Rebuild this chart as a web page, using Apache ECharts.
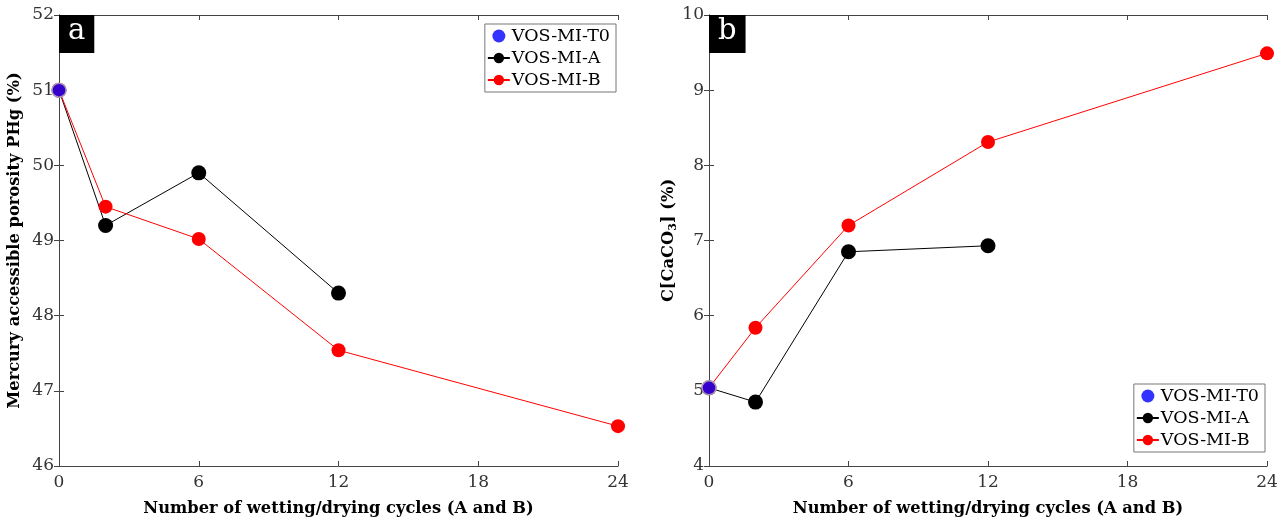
<!DOCTYPE html>
<html><head><meta charset="utf-8">
<script src="https://cdn.jsdelivr.net/npm/echarts@6/dist/echarts.min.js"></script>
<style>html,body{margin:0;padding:0;background:#fff}#c{width:1288px;height:522px}</style>
</head><body><div id="c"></div>
<script>
// Data
const cyclesT0 = [0];
const cyclesA = [0, 2, 6, 12];
const cyclesB = [0, 2, 6, 12, 24];
const poroT0 = [51.0];
const poroA = [51.0, 49.2, 49.9, 48.3];
const poroB = [51.0, 49.45, 49.02, 47.54, 46.53];
const caco3T0 = [5.04];
const caco3A = [5.04, 4.85, 6.85, 6.93];
const caco3B = [5.04, 5.84, 7.2, 8.31, 9.49];
const xTicks = [0, 6, 12, 18, 24];
const seriesNames = ['VOS-MI-T0', 'VOS-MI-A', 'VOS-MI-B'];

const FONT = 'DejaVu Serif';
const pair = (xs, ys) => xs.map((x, i) => [x, ys[i]]);

function xAxis(gi) {
  return {
    gridIndex: gi, type: 'value', min: 0, max: 24, interval: 6,
    name: 'Number of wetting/drying cycles (A and B)', nameLocation: 'middle', nameGap: 35,
    nameTextStyle: {fontFamily: FONT, fontWeight: 'bold', fontSize: 16.3, color: '#000'},
    axisLine: {show: true, lineStyle: {color: '#444', width: 1}},
    axisTick: {show: true, inside: true, length: 5, lineStyle: {color: '#444'}},
    axisLabel: {fontFamily: FONT, fontSize: 17, color: '#333', margin: 8},
    splitLine: {show: false}
  };
}
function xTop(gi) {
  return {gridIndex: gi, type: 'value', min: 0, max: 24, interval: 6, position: 'top',
    axisLine: {show: true, lineStyle: {color: '#444'}}, axisTick: {show: true, inside: true, length: 5, lineStyle: {color: '#444'}},
    axisLabel: {show: false}, splitLine: {show: false}};
}
function yAxis(gi, min, max, name, gap, rich) {
  return {
    gridIndex: gi, type: 'value', min: min, max: max, interval: 1,
    name: name, nameLocation: 'middle', nameGap: gap,
    nameTextStyle: {fontFamily: FONT, fontWeight: 'bold', fontSize: 16.3, color: '#000', rich: rich},
    axisLine: {show: true, lineStyle: {color: '#444', width: 1}},
    axisTick: {show: true, inside: true, length: 5, lineStyle: {color: '#444'}},
    axisLabel: {fontFamily: FONT, fontSize: 17, color: '#333', margin: 5},
    splitLine: {show: false}
  };
}
function yRight(gi, min, max) {
  return {gridIndex: gi, type: 'value', min: min, max: max, interval: 1, position: 'right',
    axisLine: {show: true, lineStyle: {color: '#444'}}, axisTick: {show: true, inside: true, length: 5, lineStyle: {color: '#444'}},
    axisLabel: {show: false}, splitLine: {show: false}};
}
function seriesFor(t0, a, b, xa, ya) {
  return [
    {name: seriesNames[1], type: 'line', xAxisIndex: xa, yAxisIndex: ya, data: pair(cyclesA, a),
      symbol: 'circle', symbolSize: 15, lineStyle: {color: '#000', width: 1}, itemStyle: {color: '#000'}, z: 2},
    {name: seriesNames[2], type: 'line', xAxisIndex: xa, yAxisIndex: ya, data: pair(cyclesB, b),
      symbol: 'circle', symbolSize: 14, lineStyle: {color: '#ff0000', width: 1}, itemStyle: {color: '#ff0000'}, z: 3},
    {name: seriesNames[0], type: 'scatter', xAxisIndex: xa, yAxisIndex: ya, data: pair(cyclesT0, t0),
      symbol: 'circle', symbolSize: 14, itemStyle: {color: '#0000ff', borderColor: '#c8b4c8', borderWidth: 1.5}, z: 5}
  ];
}
function legend(pos) {
  return Object.assign({
    orient: 'vertical', data: seriesNames, backgroundColor: '#fff', borderColor: '#777', borderWidth: 1,
    padding: [3, 6, 3, 2], itemGap: 4, itemWidth: 22, itemHeight: 13,
    itemStyle: {borderWidth: 0},
    textStyle: {fontFamily: FONT, fontSize: 17.5, color: '#000', padding: [0, 0, 0, -3]}
  }, pos);
}

const chart = echarts.init(document.getElementById('c'));
chart.setOption({
  animation: false,
  grid: [
    {left: 59, right: 670, top: 15, bottom: 56},
    {left: 709, right: 21, top: 15, bottom: 56}
  ],
  xAxis: [xAxis(0), xTop(0), xAxis(1), xTop(1)],
  yAxis: [
    yAxis(0, 46, 52, 'Mercury accessible porosity PHg (%)', 36), yRight(0, 46, 52),
    yAxis(1, 4, 10, 'C[CaCO{sub|3}] (%)', 24, {sub: {fontFamily: FONT, fontWeight: 'bold', fontSize: 11, verticalAlign: 'bottom', padding: [8, 0, 0, 0]}}), yRight(1, 4, 10)
  ],
  legend: [
    legend({right: 672, top: 24}),
    legend({right: 23, top: 384})
  ],
  title: [
    {text: 'a', left: 59, top: 15, backgroundColor: '#000', padding: [2, 9, 7, 9],
      textStyle: {color: '#fff', fontFamily: FONT, fontSize: 29, fontWeight: 'normal'}},
    {text: 'b', left: 709, top: 15, backgroundColor: '#000', padding: [2, 9, 7, 9],
      textStyle: {color: '#fff', fontFamily: FONT, fontSize: 29, fontWeight: 'normal'}}
  ],
  series: [].concat(seriesFor(poroT0, poroA, poroB, 0, 0), seriesFor(caco3T0, caco3A, caco3B, 2, 2))
});
</script></body></html>
